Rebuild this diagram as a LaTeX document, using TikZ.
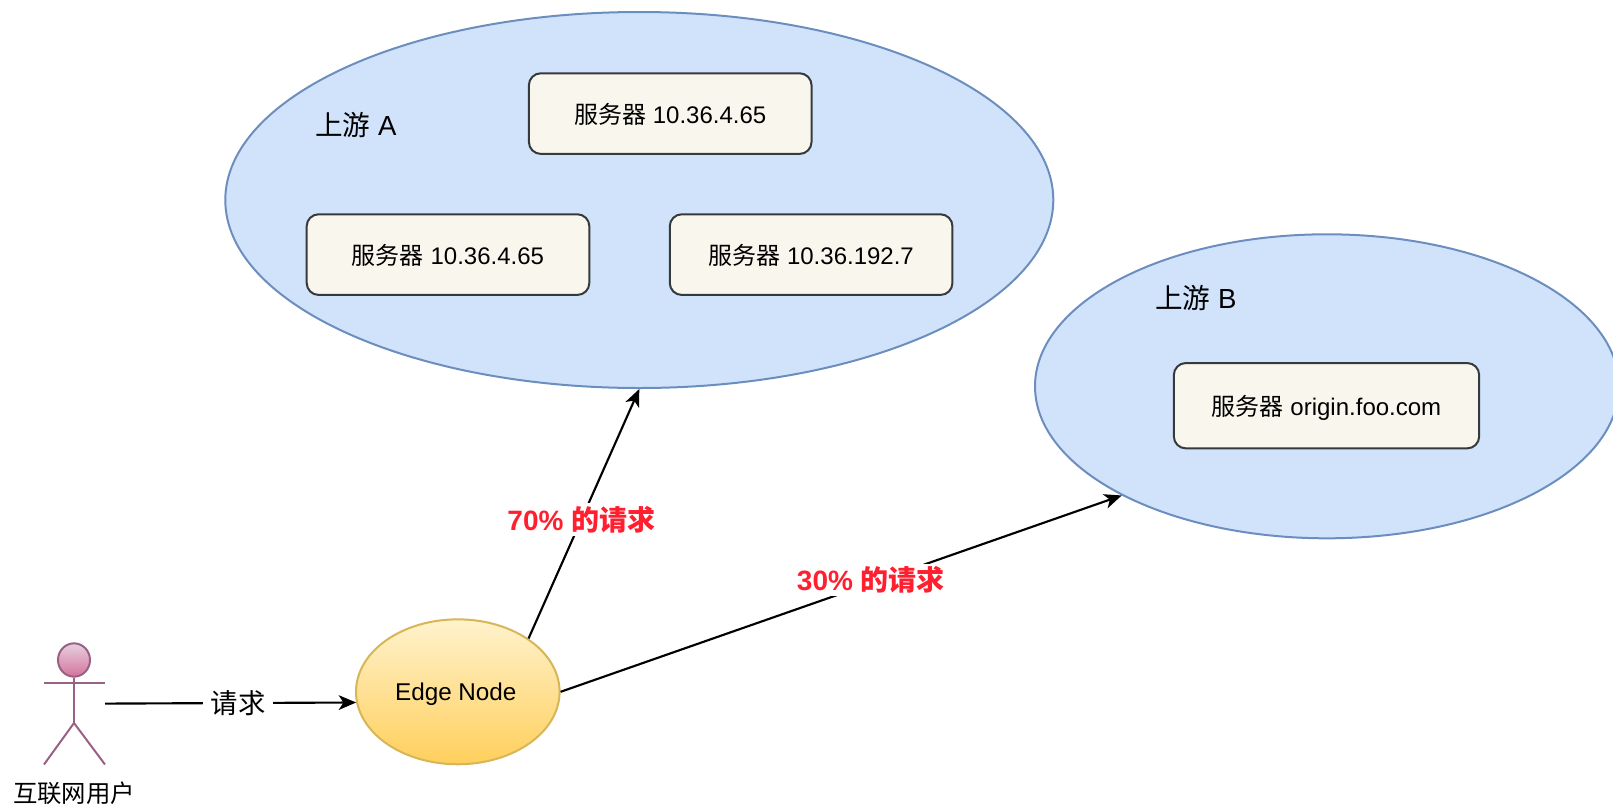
\documentclass[tikz,border=0pt]{standalone}
\usepackage{fontspec}
\setmainfont{Liberation Sans}
\newfontfamily\cjk{Noto Sans CJK SC}
\usetikzlibrary{shapes.geometric,arrows.meta}
\definecolor{bluefill}{HTML}{D1E3FA}
\definecolor{blueline}{HTML}{6C8EBF}
\definecolor{boxfill}{HTML}{F9F7ED}
\definecolor{boxline}{HTML}{36393D}
\definecolor{edgeline}{HTML}{D6B656}
\definecolor{edgetop}{HTML}{FFF2CC}
\definecolor{edgebottom}{HTML}{FFCF5C}
\definecolor{actorline}{HTML}{996185}
\definecolor{actortop}{HTML}{E6D0DE}
\definecolor{actorbottom}{HTML}{D5739D}
\definecolor{redtext}{HTML}{FF1F2F}
\newcommand\droptext[2]{\raisebox{-#1}[3pt][3pt]{#2}}
\tikzset{
  x=0.75pt,y=-0.75pt,
  upstream/.style={ellipse,draw=blueline,fill=bluefill,line width=1.5pt,inner sep=0pt},
  serverbox/.style={rectangle,rounded corners=9pt,draw=boxline,fill=boxfill,line width=1.5pt,inner sep=0pt,
    minimum width=212pt,minimum height=60.5pt,font=\fontsize{18}{22}\selectfont},
  flow/.style={line width=1.6pt,-{Stealth[length=13pt,width=11pt,inset=3.5pt]}},
  actorstroke/.style={draw=actorline,line width=1.5pt},
  heading/.style={inner sep=0pt,font=\fontsize{20.7}{24}\selectfont},
  share/.style={fill=white,inner sep=2pt,text=redtext,font=\fontsize{21}{24}\selectfont\bfseries},
}
\begin{document}
\begin{tikzpicture}
\useasboundingbox (0,0) rectangle (1613,808);
\node[upstream,minimum width=621pt,minimum height=282pt] (a) at (639.3,200) {};
\node[upstream,minimum width=438pt,minimum height=228pt] (b) at (1327,386.3) {};
\node[serverbox] (s1) at (670.2,113.6) {\droptext{7.4pt}{{\cjk 服务器} 10.36.4.65}};
\node[serverbox] (s2) at (448,254.6) {\droptext{7.4pt}{{\cjk 服务器} 10.36.4.65}};
\node[serverbox] (s3) at (811.1,254.6) {\droptext{7.4pt}{{\cjk 服务器} 10.36.192.7}};
\node[serverbox,minimum width=229pt,minimum height=64pt] (s4) at (1326.5,405.7) {\droptext{7.4pt}{{\cjk 服务器} origin.foo.com}};
\node[heading] (la) at (356,125) {{\cjk 上游} A};
\node[heading] (lb) at (1196,298) {{\cjk 上游} B};
\node[ellipse,draw=edgeline,line width=1.5pt,top color=edgetop,bottom color=edgebottom,
  minimum width=152.7pt,minimum height=108.7pt,inner sep=0pt,font=\fontsize{18.2}{22}\selectfont] (edge) at (457.8,691.8) {\hspace{-3pt}\droptext{6.8pt}{Edge Node}};
% actor
\node[ellipse,draw=actorline,line width=1.5pt,top color=actortop,bottom color=actorbottom,
  minimum width=24pt,minimum height=25pt,inner sep=0pt] (head) at (74,660) {};
\coordinate (hip) at (74,723);
\coordinate (armL) at (44,683);
\coordinate (armR) at (105,683);
\coordinate (footL) at (44,764.5);
\coordinate (footR) at (105,764.5);
\draw[actorstroke] (head.south) -- (hip);
\draw[actorstroke] (armL) -- (armR);
\draw[actorstroke] (footL) -- (hip) -- (footR);
\node[inner sep=0pt,font=\fontsize{18.3}{22}\selectfont\cjk] (user) at (74,793) {互联网用户};
\coordinate (start) at (105,703.6);
\draw[flow] (start) -- node[pos=0.53,fill=white,inner sep=6pt,font=\fontsize{20.5}{24}\selectfont\cjk] (req) {请求} (edge.186);
\draw[flow] (edge.37) -- node[pos=0.477,share] (p70) {70\% {\cjk\bfseries 的请求}} (a.south);
\draw[flow] (edge.east) -- node[pos=0.553,yshift=2.5pt,share] (p30) {30\% {\cjk\bfseries 的请求}} (b.208);
\end{tikzpicture}
\end{document}
